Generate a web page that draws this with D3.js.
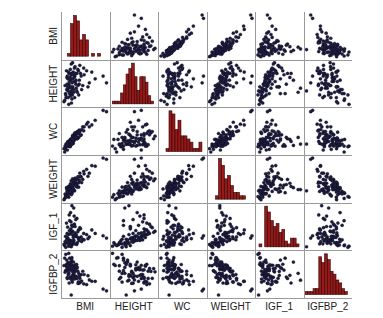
<!DOCTYPE html>
<html><head><meta charset="utf-8">
<script src="https://cdn.jsdelivr.net/npm/d3@7"></script>
<style>html,body{margin:0;padding:0;background:#fff;}svg{display:block;}</style>
</head><body>
<script>
const variables = ["BMI","HEIGHT","WC","WEIGHT","IGF_1","IGFBP_2"];

const bmi = [21.0,22.5,20.1,24.3,23.1,19.5,25.6,22.0,21.7,26.8,20.6,23.8,22.9,27.5,21.3,24.9,20.9,23.4,29.2,22.2,
  19.9,25.1,21.5,26.2,23.6,22.7,30.4,21.1,24.0,20.3,22.4,25.9,23.0,21.9,28.1,22.1,19.2,24.6,23.3,21.4,
  33.0,22.6,20.7,25.3,23.9,21.8,27.0,22.3,24.5,20.4,26.5,23.5,21.2,29.8,22.8,24.1,20.0,25.4,22.5,23.7,
  36.5,21.6,24.8,22.0,26.0,20.8,23.2,31.5,21.9,24.4,22.4,19.7,25.7,23.0,27.9,21.0,24.2,22.7,38.0,20.5];
const height = [165,178,160,172,168,158,180,175,163,176,170,182,162,169,155,178,174,166,180,168,
  163,164,178,184,172,159,171,167,176,180,165,170,186,161,177,173,157,167,179,170,
  174,163,176,181,160,168,166,177,173,166,178,164,179,168,171,183,162,169,156,175,
  176,172,165,181,173,168,177,179,164,170,185,169,162,174,182,160,178,167,171,175];
const wc = [75,76,75,84,88,63,91,82,72,89,73,89,76,101,72,83,78,80,105,81,
  67,83,79,94,80,82,101,79,84,72,75,96,87,71,101,73,68,90,76,79,
  111,81,66,94,91,74,97,74,89,75,88,85,72,108,77,92,71,85,82,82,
  126,72,93,74,94,78,80,104,79,85,83,72,85,83,95,74,91,75,124,74];
const weight = [57,71,51,72,65,49,83,67,58,83,60,79,60,79,51,79,63,64,95,63,
  53,67,68,89,70,57,89,59,74,66,61,75,80,57,88,66,47,69,75,62,
  100,60,64,83,61,62,74,70,73,56,84,63,68,84,67,81,52,73,55,73,
  113,64,68,72,78,59,73,101,59,71,77,56,67,70,92,54,77,63,111,63];
const igf1 = [150,210,120,180,260,95,230,140,310,170,200,280,110,150,90,330,160,130,190,240,
  175,120,360,250,140,100,170,115,205,290,85,160,220,135,145,380,105,190,165,125,
  200,270,150,215,110,95,130,300,175,145,240,420,190,155,135,260,80,165,120,350,
  180,225,105,195,140,255,185,230,100,320,210,130,150,270,200,110,175,440,160,165];
const igfbp2 = [436,265,399,410,287,487,212,352,486,295,262,367,209,335,542,251,357,442,181,399,
  341,379,199,253,350,492,234,295,404,416,60,197,328,263,297,441,401,276,394,310,
  218,464,250,336,245,415,222,348,367,464,209,311,403,283,281,333,530,194,415,288,
  129,368,413,252,276,399,265,219,433,268,366,324,310,378,189,336,351,232,108,373];

// histogram counts (bin start, bin width in data units)
const bmiHist = [1,12,15,13,6,8,6,0,1,0,1];              const bmiBin = [20.75, 1.33];
const heightHist = [1,1,1,4,7,11,13,15,10,5,10,10,8,3,1]; const heightBin = [154.9, 2.0];
const wcHist = [1,13,12,7,10,5,5,4,3,1,1,3];            const wcBin = [70.4, 4.44];
const weightHist = [1,12,10,6,7,4,2,2,1,1];             const weightBin = [56.3, 4.66];
const igf1Hist = [1,0,14,12,9,7,8,5,6,2,1,3,3,1];        const igf1Bin = [88.5, 24.2];
const igfbp2Hist = [1,1,1,2,2,13,11,14,12,8,7,5,4,2,1];  const igfbp2Bin = [37, 32.5];

const series = [bmi,height,wc,weight,igf1,igfbp2];
const hists = [[bmiHist,bmiBin],[heightHist,heightBin],[wcHist,wcBin],[weightHist,weightBin],[igf1Hist,igf1Bin],[igfbp2Hist,igfbp2Bin]];

const W = 383, H = 318;
const L = 61, T = 12, R = 352, B = 298;
const n = variables.length;
const cw = (R - L) / n, ch = (B - T) / n;
const inset = 3;

const svg = d3.select("body").append("svg").attr("width", W).attr("height", H);

const xs = series.map(s => d3.scaleLinear().domain(d3.extent(s)).range([inset, cw - inset]));
const ys = series.map(s => d3.scaleLinear().domain(d3.extent(s)).range([ch - inset, inset]));

const rows = d3.range(bmi.length);

for (let i = 0; i < n; i++) {
  for (let j = 0; j < n; j++) {
    const g = svg.append("g").attr("transform", `translate(${L + j*cw},${T + i*ch})`);
    if (i === j) {
      const [counts, bin] = hists[i];
      const hy = d3.scaleLinear().domain([0, d3.max(counts)]).range([ch - 3.5, 3.5]);
      g.selectAll("rect").data(counts).join("rect")
        .attr("x", (c, k) => xs[j](bin[0] + k*bin[1]))
        .attr("width", (c, k) => xs[j](bin[0] + (k+1)*bin[1]) - xs[j](bin[0] + k*bin[1]))
        .attr("y", c => hy(c))
        .attr("height", c => hy(0) - hy(c))
        .attr("fill", "#9a1717")
        .attr("stroke", "#2a0a0a")
        .attr("stroke-width", 0.6);
    } else {
      g.selectAll("circle").data(rows).join("circle")
        .attr("cx", k => xs[j](series[j][k]))
        .attr("cy", k => ys[i](series[i][k]))
        .attr("r", 1.6)
        .attr("fill", "#1c1c3c")
        .attr("stroke", "#0e0e22")
        .attr("stroke-width", 0.3);
    }
  }
}

// grid lines
const gl = svg.append("g").attr("stroke", "#9a9a9a").attr("stroke-width", 1);
for (let j = 0; j < n; j++) {
  const x = Math.round(L + j*cw) + 0.5;
  gl.append("line").attr("x1", x).attr("x2", x).attr("y1", T).attr("y2", B);
}
for (let i = 1; i <= n; i++) {
  const y = Math.round(T + i*ch) + 0.5;
  gl.append("line").attr("x1", L).attr("x2", R).attr("y1", y).attr("y2", y);
}

// labels
const font = "'Liberation Sans', Arial, Helvetica, sans-serif";
svg.append("g").selectAll("text").data(variables).join("text")
  .attr("x", (d, j) => L + (j + 0.5)*cw)
  .attr("y", 309.5)
  .attr("text-anchor", "middle")
  .attr("font-family", font).attr("font-size", 10).attr("fill", "#222")
  .text(d => d);
svg.append("g").selectAll("text").data(variables).join("text")
  .attr("transform", (d, i) => `translate(56.5,${T + (i + 0.5)*ch}) rotate(-90)`)
  .attr("text-anchor", "middle")
  .attr("font-family", font).attr("font-size", 10).attr("fill", "#222")
  .text(d => d);
</script>
</body></html>
